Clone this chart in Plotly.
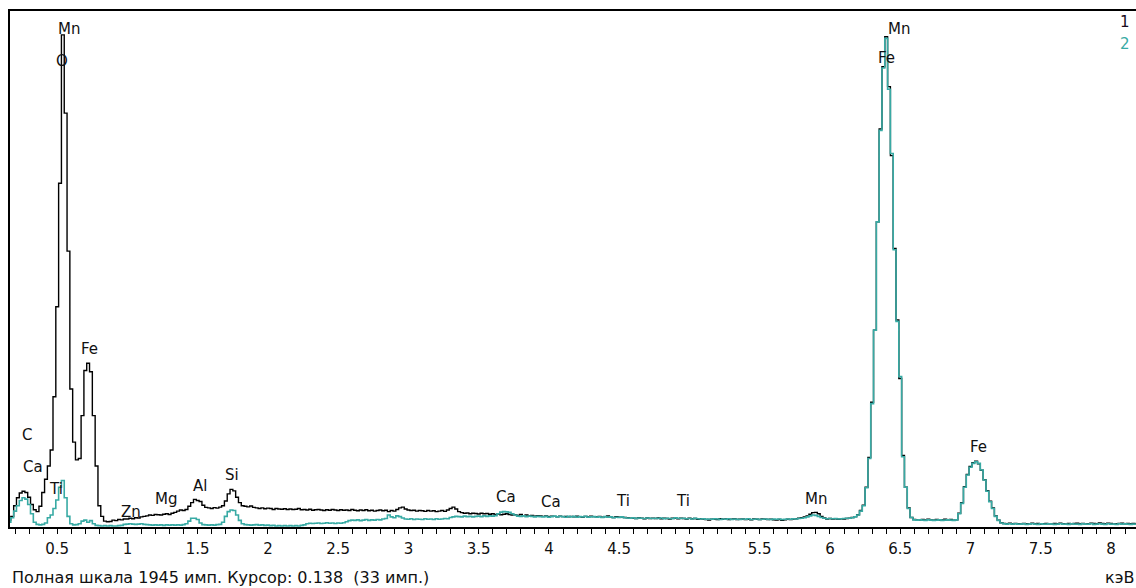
import numpy as np
import plotly.graph_objects as go

# channel energies (keV), 20 eV channels
energy_kev = np.round(0.16 + 0.02 * np.arange(402), 2)

# spectrum 1 (black) counts per channel
counts_1 = [
    26, 40, 80, 110, 128, 135, 130, 112, 85, 65,
    58, 78, 130, 180, 230, 290, 491, 830, 1296, 1855,
    1560, 1040, 520, 320, 253, 258, 420, 590, 617, 585,
    420, 230, 80, 40, 22, 20, 21, 26, 24, 28,
    27, 30, 30, 33, 31, 35, 34, 38, 40, 42,
    45, 44, 47, 46, 45, 48, 50, 47, 52, 55,
    60, 64, 62, 66, 78, 92, 104, 100, 96, 82,
    74, 72, 70, 73, 71, 75, 80, 98, 125, 142,
    136, 112, 92, 80, 78, 76, 79, 74, 72, 70,
    72, 69, 71, 70, 66, 70, 68, 67, 69, 66,
    68, 66, 67, 70, 65, 66, 64, 67, 63, 65,
    66, 64, 62, 65, 63, 66, 64, 62, 65, 63,
    64, 62, 66, 63, 61, 64, 62, 65, 61, 63,
    60, 62, 64, 61, 63, 58, 62, 60, 66, 72,
    75, 68, 64, 62, 63, 60, 62, 61, 59, 62,
    60, 61, 58, 60, 62, 59, 64, 70, 75, 68,
    58, 54, 52, 53, 50, 52, 51, 49, 52, 50,
    51, 48, 50, 47, 49, 46, 48, 50, 47, 45,
    46, 44, 47, 43, 45, 42, 44, 41, 43, 42,
    40, 42, 39, 41, 40, 38, 41, 39, 40, 38,
    40, 38, 41, 39, 37, 40, 38, 41, 39, 38,
    40, 37, 39, 42, 38, 36, 39, 37, 38, 36,
    35, 33, 34, 32, 35, 33, 31, 34, 32, 33,
    32, 34, 31, 33, 32, 30, 33, 34, 31, 33,
    32, 30, 33, 31, 32, 29, 31, 30, 28, 26,
    29, 30, 28, 31, 29, 30, 28, 29, 31, 28,
    29, 30, 28, 29, 27, 30, 29, 28, 30, 29,
    28, 29, 27, 26, 28, 25, 27, 29, 28, 30,
    31, 33, 35, 38, 42, 48, 54, 55, 50, 40,
    34, 30, 32, 30, 31, 29, 31, 30, 32, 33,
    36, 39, 46, 62, 82, 150, 262, 470, 742, 1150,
    1500, 1735, 1848, 1660, 1400, 1050, 780, 560, 270, 150,
    72, 36, 28, 27, 26, 28, 27, 29, 27, 26,
    28, 26, 27, 29, 27, 28, 26, 27, 52, 92,
    152, 198, 228, 242, 248, 238, 214, 178, 137, 97,
    72, 42, 26, 16, 13, 12, 14, 12, 13, 12,
    11, 13, 12, 11, 14, 12, 13, 11, 12, 13,
    12, 11, 13, 12, 14, 12, 11, 13, 12, 13,
    14, 12, 13, 11, 12, 14, 13, 12, 15, 13,
    12, 14, 13, 11, 12, 13, 14, 12, 13, 12,
    13, 12,
]

# spectrum 2 (teal) counts per channel
counts_2 = [
    18, 35, 60, 80, 100, 110, 105, 85, 50, 18,
    10, 8, 10, 15, 35, 45, 70, 102, 150, 175,
    110, 40, 12, 8, 9, 12, 22, 26, 18, 24,
    12, 6, 5, 4, 5, 4, 5, 4, 4, 5,
    6, 10, 11, 12, 11, 10, 11, 12, 10, 9,
    8, 7, 8, 7, 8, 6, 8, 7, 8, 7,
    8, 7, 9, 12, 22, 33, 33, 28, 15, 9,
    8, 7, 8, 7, 9, 10, 18, 40, 58, 64,
    62, 45, 25, 12, 9, 8, 7, 8, 9, 7,
    8, 6, 7, 5, 6, 4, 5, 4, 5, 4,
    5, 4, 5, 4, 6, 8, 12, 14, 13, 14,
    15, 13, 14, 16, 14, 15, 13, 15, 14, 16,
    20, 24, 26, 25, 27, 24, 26, 28, 25, 27,
    26, 28, 27, 30, 32, 45, 38, 35, 42, 39,
    34, 30, 29, 31, 28, 30, 29, 28, 31, 29,
    30, 28, 31, 29, 30, 32, 31, 36, 38, 40,
    39, 38, 41, 39, 40, 38, 40, 41, 39, 42,
    40, 42, 41, 43, 50, 56, 58, 57, 55, 50,
    45, 41, 40, 42, 39, 41, 40, 38, 40, 39,
    38, 40, 37, 39, 41, 38, 40, 39, 37, 40,
    38, 40, 37, 39, 38, 40, 37, 38, 39, 37,
    38, 36, 39, 37, 38, 35, 37, 36, 38, 35,
    34, 33, 35, 32, 34, 33, 32, 34, 33, 32,
    33, 32, 34, 31, 33, 32, 31, 35, 33, 32,
    33, 31, 32, 30, 33, 31, 30, 31, 29, 30,
    29, 31, 30, 28, 30, 29, 31, 28, 30, 29,
    28, 30, 29, 31, 28, 29, 30, 28, 29, 30,
    29, 28, 30, 29, 30, 28, 29, 30, 29, 31,
    30, 32, 33, 35, 38, 42, 45, 44, 40, 36,
    33, 31, 32, 31, 32, 30, 31, 32, 33, 33,
    35, 38, 45, 60, 80, 148, 258, 465, 742, 1150,
    1495, 1730, 1842, 1650, 1408, 1045, 775, 567, 265, 150,
    70, 36, 27, 26, 27, 26, 25, 27, 26, 25,
    26, 27, 25, 26, 27, 26, 25, 27, 50, 89,
    150, 196, 225, 240, 246, 240, 215, 177, 135, 95,
    70, 40, 25, 15, 12, 11, 12, 11, 12, 11,
    11, 12, 10, 11, 12, 11, 10, 12, 11, 11,
    12, 11, 10, 11, 12, 11, 11, 10, 12, 11,
    11, 10, 12, 11, 11, 12, 10, 11, 12, 11,
    10, 12, 11, 11, 10, 12, 11, 12, 11, 10,
    11, 11,
]

# element line labels: name, energy (keV), label height (counts)
label_names = ["Mn", "O", "Fe", "C", "Ca", "Ti", "Zn", "Mg", "Al", "Si",
               "Ca", "Ca", "Ti", "Ti", "Mn", "Mn", "Fe", "Fe"]
label_kev = [0.587, 0.537, 0.733, 0.288, 0.327, 0.491, 1.025, 1.274, 1.516, 1.744,
             3.694, 4.014, 4.527, 4.954, 5.900, 6.491, 6.399, 7.060]
label_counts = [1877, 1756, 671, 347, 226, 143, 57, 106, 155, 196,
                113, 94, 98, 98, 106, 1877, 1768, 302]

tick_vals = [0.5, 1, 1.5, 2, 2.5, 3, 3.5, 4, 4.5, 5, 5.5, 6, 6.5, 7, 7.5, 8]
tick_text = ["0.5", "1", "1.5", "2", "2.5", "3", "3.5", "4", "4.5", "5",
             "5.5", "6", "6.5", "7", "7.5", "8"]

full_scale = 1945
status_text = "Полная шкала 1945 имп. Курсор: 0.138\u00a0\u00a0(33 имп.)"
unit_text = "кэВ"
series_names = ["1", "2"]

BLACK = "#000000"
TEAL = "#38aaa4"
FONT = "DejaVu Sans"
TXT = "#111111"

fig = go.Figure()
fig.add_trace(go.Scatter(x=energy_kev, y=counts_1, mode="lines", name=series_names[0],
                         line=dict(color=BLACK, width=1.4, shape="hvh")))
fig.add_trace(go.Scatter(x=energy_kev, y=counts_2, mode="lines", name=series_names[1],
                         line=dict(color=TEAL, width=1.6, shape="hvh")))

ann = []
for n, xk, yc in zip(label_names, label_kev, label_counts):
    ann.append(dict(x=xk, y=yc, xref="x", yref="y", text=n, showarrow=False,
                    font=dict(family=FONT, size=15, color=TXT),
                    xanchor="center", yanchor="middle"))

ann.append(dict(x=0.0, y=-0.097, xref="paper", yref="paper", text=status_text,
                showarrow=False, xanchor="left", yanchor="middle",
                font=dict(family=FONT, size=16, color=TXT)))
ann.append(dict(x=1.0, y=-0.097, xref="paper", yref="paper", text=unit_text,
                showarrow=False, xanchor="right", yanchor="middle",
                font=dict(family=FONT, size=16, color=TXT)))
ann.append(dict(x=0.9964, y=0.978, xref="paper", yref="paper", text=series_names[0],
                showarrow=False, xanchor="right", yanchor="middle",
                font=dict(family=FONT, size=15, color="#1a0a1a")))
ann.append(dict(x=0.9964, y=0.936, xref="paper", yref="paper", text=series_names[1],
                showarrow=False, xanchor="right", yanchor="middle",
                font=dict(family=FONT, size=15, color=TEAL)))

fig.update_layout(
    width=1136, height=588,
    margin=dict(l=10, r=0, t=11, b=61),
    paper_bgcolor="white", plot_bgcolor="white",
    showlegend=False,
    annotations=ann,
    xaxis=dict(range=[0.164, 8.178], showgrid=False, zeroline=False,
               showline=True, linecolor=BLACK, linewidth=1.5, mirror=True,
               ticks="outside", ticklen=5, tickcolor=BLACK, tickwidth=1,
               tickvals=tick_vals, ticktext=tick_text,
               ticklabelstandoff=2,
               minor=dict(dtick=0.1, tick0=0, ticks="outside", ticklen=5,
                          tickcolor=BLACK, tickwidth=1, showgrid=False),
               tickfont=dict(family=FONT, size=15, color=TXT)),
    yaxis=dict(range=[0, full_scale], showgrid=False, zeroline=False,
               showline=True, linecolor=BLACK, linewidth=2,
               showticklabels=False, ticks=""),
)

fig.write_html("out.html", config={"displayModeBar": False},
               post_script="document.body.style.margin='0';document.body.style.padding='0';")
